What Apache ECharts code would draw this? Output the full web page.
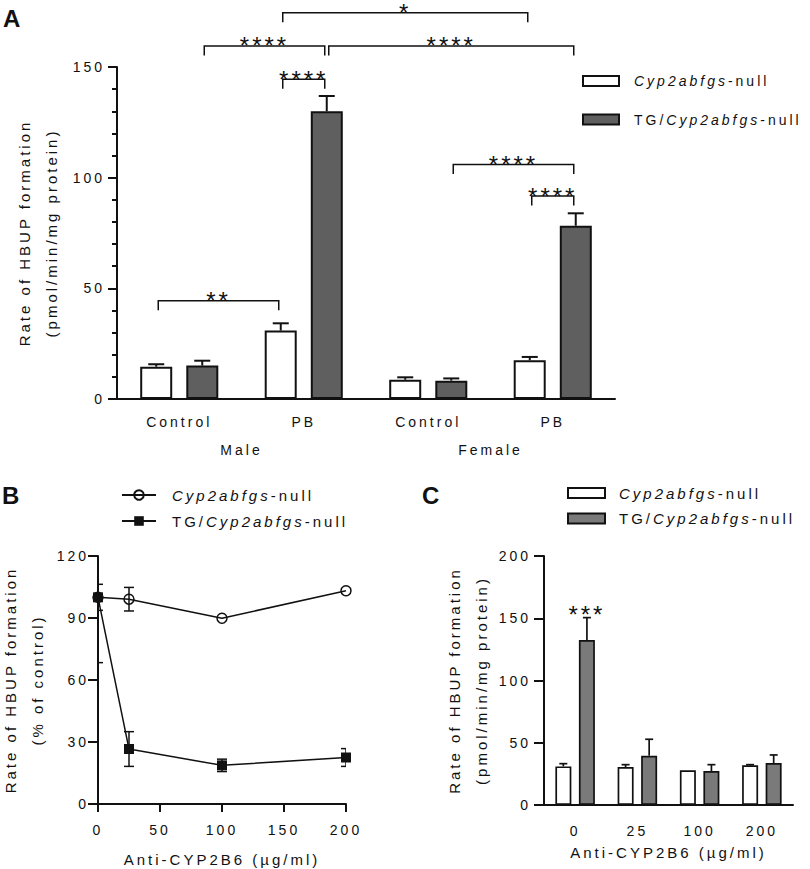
<!DOCTYPE html>
<html>
<head>
<meta charset="utf-8">
<title>HBUP formation</title>
<script src="https://cdn.jsdelivr.net/npm/echarts@6/dist/echarts.min.js"></script>
<style>
  html, body { margin: 0; padding: 0; background: #fff; }
  #chart { width: 810px; height: 869px; }
  /* GraphPad style wide lettering */
  #chart svg text { letter-spacing: 3px; }
</style>
</head>
<body>
<div id="chart"></div>
<script>
// ---- panel A : liver microsomes, male / female, control / PB
const catsA = ['Control', 'PB', 'Control', 'PB'];
const sexA = ['Male', 'Female'];
const nullA = [14.6, 30.9, 8.7, 17.5];
const nullAErr = [1.1, 3.3, 1.1, 1.5];
const tgA = [15.1, 130.0, 8.3, 78.3];
const tgAErr = [2.2, 6.9, 1.0, 5.6];
// [category, bar, category, bar, level, stars]   bar 0 = null, 1 = TG
const bracketsA = [
  [1, 0, 3, 0, 174.5, '*'],
  [0, 1, 1, 1, 159.5, '****'],
  [1, 1, 3, 1, 159.5, '****'],
  [1, 0, 1, 1, 144.5, '****'],
  [0, 0, 1, 0, 44.4, '**'],
  [2, 1, 3, 1, 106, '****'],
  [3, 0, 3, 1, 91.7, '****']
];

// ---- panel B : % of control vs antibody
const doseB = [0, 25, 100, 200];
const nullB = [100, 99.1, 89.9, 103.2];
const nullBErr = [6.3, 5.7, 0, 0];
const tgB = [100, 26.6, 18.7, 22.5];
const tgBErr = [31.6, 8.4, 3.0, 4.3];

// ---- panel C : absolute rate vs antibody
const catsC = ['0', '25', '100', '200'];
const nullC = [31.0, 30.5, 27.9, 31.9];
const nullCErr = [2.2, 1.9, 0, 0.5];
const tgC = [132.5, 39.6, 27.3, 33.7];
const tgCErr = [18.0, 13.2, 5.1, 6.5];
const sigC = ['***', '', '', ''];

const FONT = '"Liberation Sans", Arial, sans-serif';
const INK = '#111';
const LS = 3;
const BAR_OFF_A = 23;   // (barWidth + gap) / 2
const BAR_OFF_C = 11.8;
const STAR_FONT = '24px ' + FONT;

const mctx = document.createElement('canvas').getContext('2d');
function boxW(text, size, style) {
  mctx.font = (style || '') + ' ' + size + 'px "Liberation Sans"';
  return mctx.measureText(text).width + LS * text.length;
}
function legendRich(pad, size) {
  return {
    pad: { width: pad, fontSize: size, fontFamily: FONT },
    tg: { width: boxW('TG/', size), fontSize: size, fontFamily: FONT, color: INK },
    it: { width: boxW('Cyp2abfgs', size, 'italic'), fontSize: size, fontStyle: 'italic', fontFamily: FONT, color: INK },
    nl: { fontSize: size, fontFamily: FONT, color: INK }
  };
}
function legendText(name) {
  const label = name.split(':')[1];
  const word = label.replace('TG/', '').replace('-null', '');
  return '{pad| }' + (label.indexOf('TG/') === 0 ? '{tg|TG/}' : '') + '{it|' + word + '}{nl|-null}';
}

function errorBar(offset, cap, lw, twoSided, labels) {
  return function (params, api) {
    const x = api.value(0), v = api.value(1), e = api.value(2);
    const top = api.coord([x, v + e]);
    const mid = api.coord([x, v]);
    const bot = api.coord([x, v - e]);
    const cx = top[0] + offset;
    const st = { stroke: INK, lineWidth: lw };
    const children = [];
    if (e > 0) {
      children.push({ type: 'line', shape: { x1: cx, y1: twoSided ? bot[1] : mid[1], x2: cx, y2: top[1] }, style: st });
      children.push({ type: 'line', shape: { x1: cx - cap / 2, y1: top[1], x2: cx + cap / 2, y2: top[1] }, style: st });
      if (twoSided) {
        children.push({ type: 'line', shape: { x1: cx - cap / 2, y1: bot[1], x2: cx + cap / 2, y2: bot[1] }, style: st });
      }
    }
    if (labels && labels[params.dataIndex]) {
      children.push({
        type: 'text', x: cx, y: top[1] - 3,
        style: { text: labels[params.dataIndex], font: STAR_FONT, fill: INK, align: 'center', verticalAlign: 'middle' }
      });
    }
    return { type: 'group', children: children };
  };
}

function renderBracket(params, api) {
  const b = bracketsA[params.dataIndex];
  const x1 = api.coord([b[0], 0])[0] + (b[1] ? 1 : -1) * BAR_OFF_A + 2;
  const x2 = api.coord([b[2], 0])[0] + (b[3] ? 1 : -1) * BAR_OFF_A - 2;
  const y = api.coord([0, b[4]])[1];
  return {
    type: 'group',
    children: [
      { type: 'polyline', shape: { points: [[x1, y + 9.5], [x1, y], [x2, y], [x2, y + 9.5]] },
        style: { stroke: INK, lineWidth: 1.5, fill: null } },
      { type: 'text', x: (x1 + x2) / 2, y: y,
        style: { text: b[5], font: STAR_FONT, fill: INK, align: 'center', verticalAlign: 'middle' } }
    ]
  };
}

const axisLine = { lineStyle: { color: INK, width: 2 } };
const tickStyle = { color: INK, width: 2 };
const labelStyle = { color: INK, fontSize: 14, fontFamily: FONT };
const nameStyle = { color: INK, fontSize: 15, lineHeight: 27, fontFamily: FONT };

const chart = echarts.init(document.getElementById('chart'), null, { renderer: 'svg' });

chart.setOption({
  animation: false,
  backgroundColor: '#fff',
  textStyle: { fontFamily: FONT },
  grid: [
    { left: 117, top: 67, width: 498, height: 332, outerBoundsMode: 'none' },
    { left: 98, top: 556, width: 248, height: 248, outerBoundsMode: 'none' },
    { left: 544, top: 556, width: 249, height: 249, outerBoundsMode: 'none' }
  ],
  graphic: [
    { type: 'text', x: 3, y: 18, style: { text: 'A', font: 'bold 24px ' + FONT, fill: INK, verticalAlign: 'middle' } },
    { type: 'text', x: 2, y: 495, style: { text: 'B', font: 'bold 24px ' + FONT, fill: INK, verticalAlign: 'middle' } },
    { type: 'text', x: 422, y: 495, style: { text: 'C', font: 'bold 24px ' + FONT, fill: INK, verticalAlign: 'middle' } }
  ],
  legend: [
    {
      data: ['a:Cyp2abfgs-null', 'a:TG/Cyp2abfgs-null'],
      left: 577, top: 67, orient: 'vertical', icon: 'rect',
      itemWidth: 36, itemHeight: 10, itemGap: 20.5, selectedMode: false,
      formatter: legendText,
      textStyle: { fontSize: 14, lineHeight: 18, color: INK, fontFamily: FONT, rich: legendRich(10, 14) }
    },
    {
      data: ['b:Cyp2abfgs-null', 'b:TG/Cyp2abfgs-null'],
      left: 116, top: 481, orient: 'vertical',
      itemWidth: 34, itemHeight: 12, itemGap: 8, selectedMode: false,
      formatter: legendText,
      textStyle: { fontSize: 15, lineHeight: 18, color: INK, fontFamily: FONT, rich: legendRich(11, 15) }
    },
    {
      data: ['c:Cyp2abfgs-null', 'c:TG/Cyp2abfgs-null'],
      left: 562, top: 479, orient: 'vertical', icon: 'rect',
      itemWidth: 37, itemHeight: 10, itemGap: 7.5, selectedMode: false,
      formatter: legendText,
      textStyle: { fontSize: 15, lineHeight: 18, color: INK, fontFamily: FONT, rich: legendRich(9, 15) }
    }
  ],
  xAxis: [
    {
      type: 'category', gridIndex: 0, data: catsA,
      axisLine: axisLine, axisTick: { show: false },
      axisLabel: Object.assign({ margin: 16 }, labelStyle)
    },
    {
      type: 'category', gridIndex: 0, data: sexA, position: 'bottom', offset: 28,
      axisLine: { show: false }, axisTick: { show: false },
      axisLabel: Object.assign({ margin: 16 }, labelStyle)
    },
    {
      type: 'value', gridIndex: 1, min: 0, max: 200, interval: 50,
      axisLine: axisLine, axisTick: { length: 8, lineStyle: tickStyle }, splitLine: { show: false },
      axisLabel: Object.assign({ margin: 19 }, labelStyle),
      name: 'Anti-CYP2B6 (µg/ml)', nameLocation: 'middle', nameGap: 42, nameTextStyle: nameStyle
    },
    {
      type: 'category', gridIndex: 2, data: catsC,
      axisLine: axisLine, axisTick: { show: false },
      axisLabel: Object.assign({ margin: 19 }, labelStyle),
      name: 'Anti-CYP2B6 (µg/ml)', nameLocation: 'middle', nameGap: 33, nameTextStyle: nameStyle
    }
  ],
  yAxis: [
    {
      type: 'value', gridIndex: 0, min: 0, max: 150, interval: 50,
      axisLine: Object.assign({ show: true }, axisLine),
      axisTick: { show: true, length: 9, lineStyle: tickStyle },
      minorTick: { show: true, splitNumber: 5, length: 5, lineStyle: tickStyle },
      splitLine: { show: false },
      axisLabel: Object.assign({ margin: 12 }, labelStyle),
      name: 'Rate of HBUP formation\n(pmol/min/mg protein)', nameLocation: 'middle', nameGap: 52,
      nameTextStyle: nameStyle
    },
    {
      type: 'value', gridIndex: 1, min: 0, max: 120, interval: 30,
      axisLine: Object.assign({ show: true }, axisLine),
      axisTick: { show: true, length: 10, lineStyle: tickStyle },
      splitLine: { show: false },
      axisLabel: Object.assign({ margin: 9 }, labelStyle),
      name: 'Rate of HBUP formation\n(% of control)', nameLocation: 'middle', nameGap: 47,
      nameTextStyle: nameStyle
    },
    {
      type: 'value', gridIndex: 2, min: 0, max: 200, interval: 50,
      axisLine: Object.assign({ show: true }, axisLine),
      axisTick: { show: true, length: 10, lineStyle: tickStyle },
      splitLine: { show: false },
      axisLabel: Object.assign({ margin: 13 }, labelStyle),
      name: 'Rate of HBUP formation\n(pmol/min/mg protein)', nameLocation: 'middle', nameGap: 49,
      nameTextStyle: nameStyle
    }
  ],
  series: [
    // panel A
    {
      type: 'bar', name: 'a:Cyp2abfgs-null', xAxisIndex: 0, yAxisIndex: 0, data: nullA,
      barWidth: 32, barGap: '44%',
      itemStyle: { color: '#fff', borderColor: INK, borderWidth: 2 }
    },
    {
      type: 'bar', name: 'a:TG/Cyp2abfgs-null', xAxisIndex: 0, yAxisIndex: 0, data: tgA,
      barWidth: 32, barGap: '44%',
      itemStyle: { color: '#5f5f5f', borderColor: INK, borderWidth: 2 }
    },
    {
      type: 'custom', xAxisIndex: 0, yAxisIndex: 0, encode: { x: 0, y: 1 },
      data: nullA.map((v, i) => [i, v, nullAErr[i]]),
      renderItem: errorBar(-BAR_OFF_A, 16, 2, false)
    },
    {
      type: 'custom', xAxisIndex: 0, yAxisIndex: 0, encode: { x: 0, y: 1 },
      data: tgA.map((v, i) => [i, v, tgAErr[i]]),
      renderItem: errorBar(BAR_OFF_A, 16, 2, false)
    },
    {
      type: 'custom', xAxisIndex: 0, yAxisIndex: 0, clip: false, encode: { x: 0, y: 1 },
      data: bracketsA.map(b => [b[0], b[4]]),
      renderItem: renderBracket
    },
    // panel B
    {
      type: 'custom', xAxisIndex: 2, yAxisIndex: 1, clip: true, encode: { x: 0, y: 1 },
      data: doseB.map((d, i) => [d, nullB[i], nullBErr[i]]),
      renderItem: errorBar(0, 10, 1.5, true)
    },
    {
      type: 'custom', xAxisIndex: 2, yAxisIndex: 1, clip: true, encode: { x: 0, y: 1 },
      data: doseB.map((d, i) => [d, tgB[i], tgBErr[i]]),
      renderItem: errorBar(0, 10, 1.5, true)
    },
    {
      type: 'line', name: 'b:Cyp2abfgs-null', xAxisIndex: 2, yAxisIndex: 1,
      data: doseB.map((d, i) => [d, nullB[i]]),
      symbol: 'circle', symbolSize: 10,
      itemStyle: { color: 'rgba(255,255,255,0)', borderColor: INK, borderWidth: 1.5 },
      lineStyle: { color: INK, width: 1.5 }
    },
    {
      type: 'line', name: 'b:TG/Cyp2abfgs-null', xAxisIndex: 2, yAxisIndex: 1,
      data: doseB.map((d, i) => [d, tgB[i]]),
      symbol: 'rect', symbolSize: 10,
      itemStyle: { color: INK },
      lineStyle: { color: INK, width: 1.5 }
    },
    // panel C
    {
      type: 'bar', name: 'c:Cyp2abfgs-null', xAxisIndex: 3, yAxisIndex: 2, data: nullC,
      barWidth: 16, barGap: '47%',
      itemStyle: { color: '#fff', borderColor: INK, borderWidth: 1.7 }
    },
    {
      type: 'bar', name: 'c:TG/Cyp2abfgs-null', xAxisIndex: 3, yAxisIndex: 2, data: tgC,
      barWidth: 16, barGap: '47%',
      itemStyle: { color: '#7a7a7a', borderColor: INK, borderWidth: 1.7 }
    },
    {
      type: 'custom', xAxisIndex: 3, yAxisIndex: 2, encode: { x: 0, y: 1 },
      data: nullC.map((v, i) => [i, v, nullCErr[i]]),
      renderItem: errorBar(-BAR_OFF_C, 8, 1.7, false)
    },
    {
      type: 'custom', xAxisIndex: 3, yAxisIndex: 2, clip: false, encode: { x: 0, y: 1 },
      data: tgC.map((v, i) => [i, v, tgCErr[i]]),
      renderItem: errorBar(BAR_OFF_C, 8, 1.7, false, sigC)
    }
  ]
});
</script>
</body>
</html>
